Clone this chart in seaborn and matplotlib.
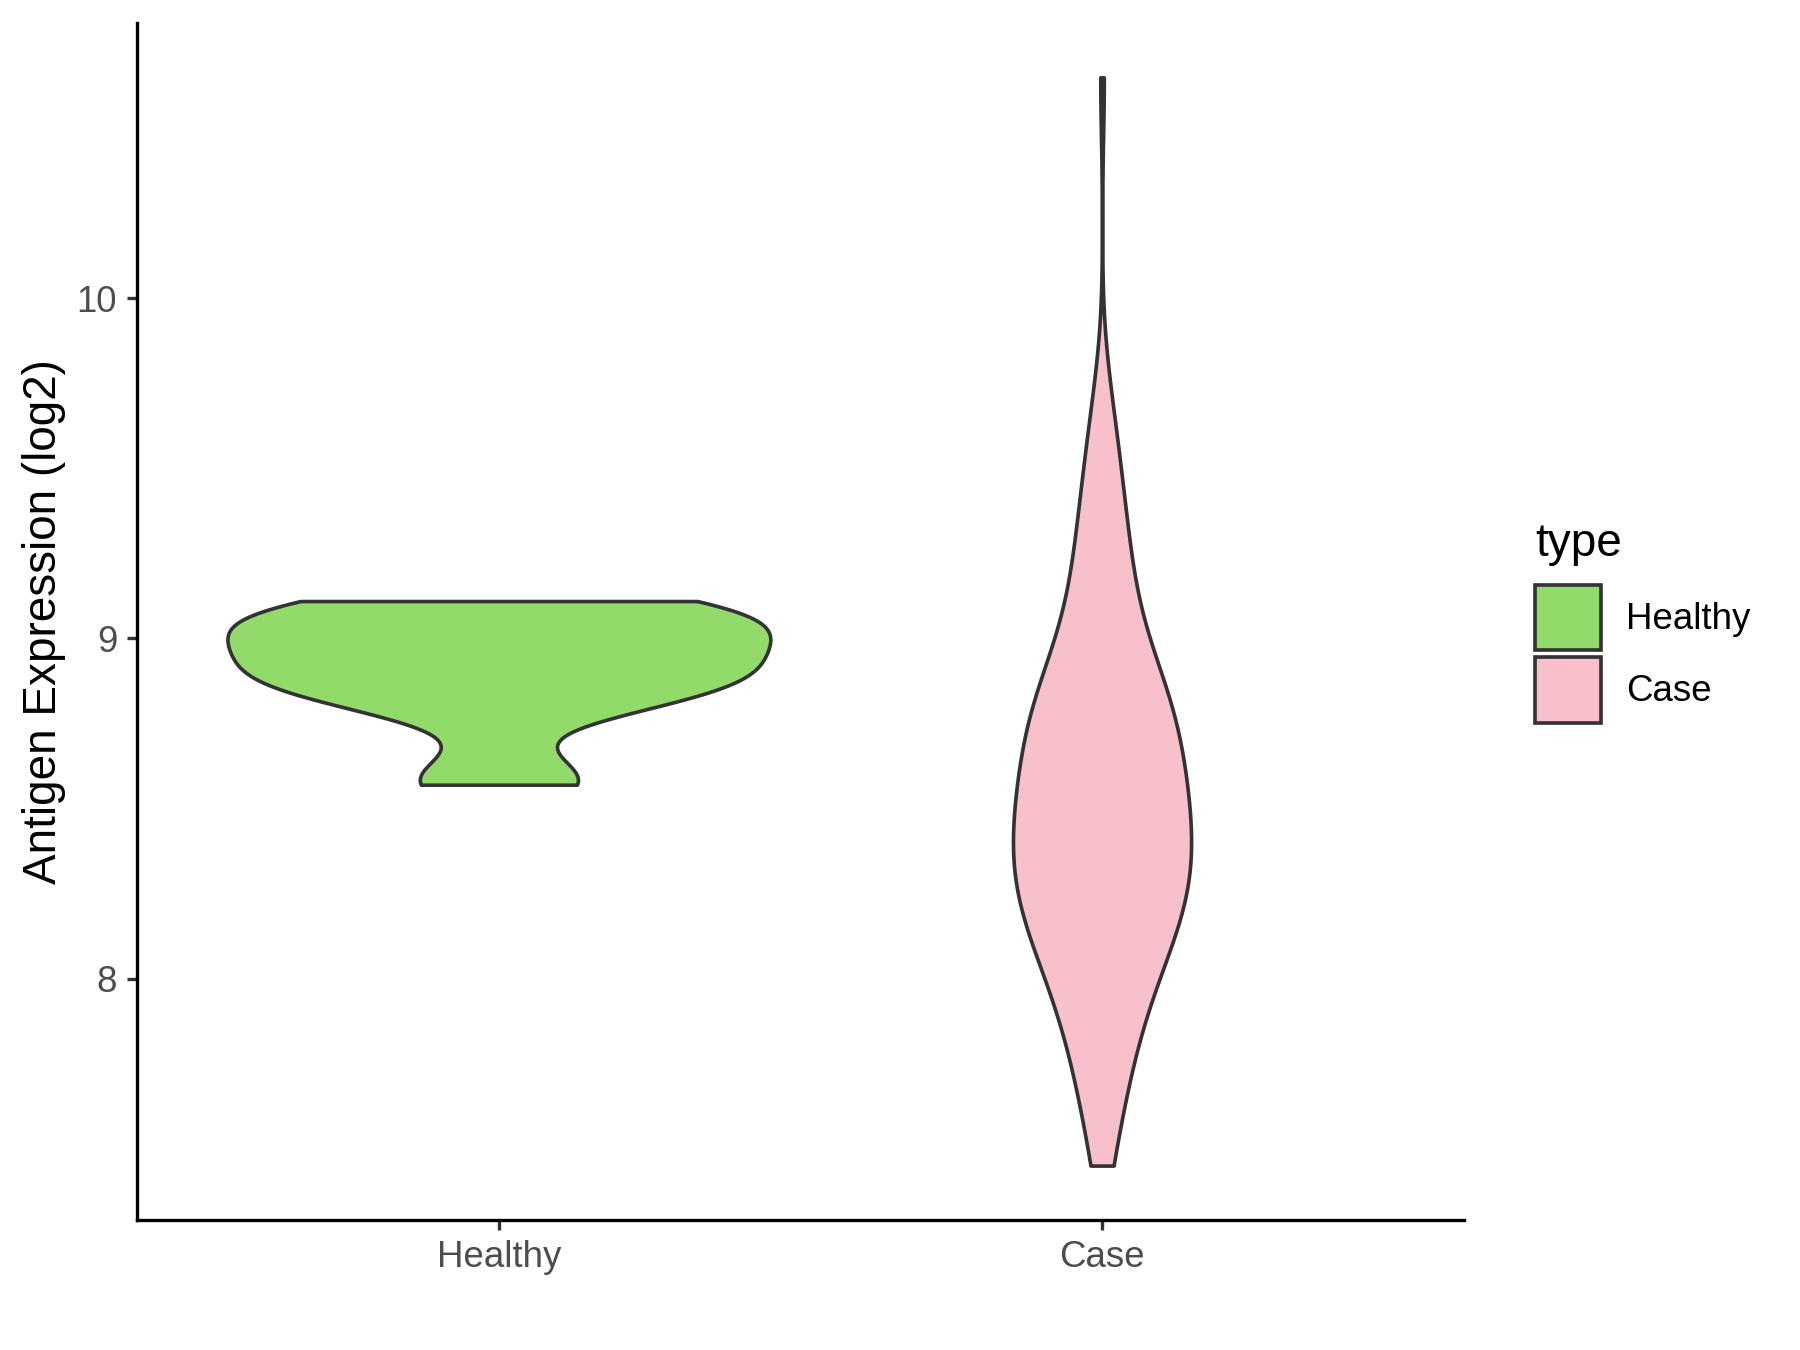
import matplotlib
matplotlib.use("Agg")
import matplotlib.pyplot as plt
import numpy as np
import pandas as pd
import seaborn as sns
from matplotlib.legend_handler import HandlerPatch
from matplotlib.patches import Patch, Rectangle

# ── Data ─────────────────────────────────────────────────────────────────────
GROUPS = ["Healthy", "Case"]
COLORS = ["#92DB6A", "#F7C0CA"]

healthy_expr = [8.57, 8.59, 8.80, 8.83, 8.86, 8.88, 8.91, 8.94, 8.97,
                9.00, 9.03, 9.06, 9.08, 9.10, 9.11]

# Case samples as expression level + number of samples at that level
case_levels = [7.45, 7.55, 7.65, 7.75, 7.85, 7.95, 8.05, 8.15, 8.25, 8.35,
               8.45, 8.55, 8.65, 8.75, 8.85, 8.95, 9.05, 9.15, 9.25, 9.35,
               9.45, 9.55, 9.65, 9.75, 10.65]
case_counts = [2, 2, 3, 4, 5, 6, 8, 11, 12, 13,
               12, 11, 11, 10, 11, 5, 5, 4, 4, 3,
               3, 2, 2, 1, 1]

Y_TICKS = [8, 9, 10]
Y_LABEL = "Antigen Expression (log2)"
LEGEND_TITLE = "type"
LINE = "#333333"


def nrd0(kde):
    """R's bw.nrd0, as a factor of the sample sd (what gaussian_kde expects)."""
    x = np.asarray(kde.dataset).ravel()
    sd = x.std(ddof=1)
    q25, q75 = np.percentile(x, [25, 75])
    lo = min(sd, (q75 - q25) / 1.34)
    if lo <= 0:
        lo = sd
    return 0.9 * lo * len(x) ** -0.2 / sd


def square_key(legend, orig_handle, xdescent, ydescent, width, height, fontsize):
    # ggplot-style key: a square centred on the label text
    size = 1.78 * fontsize
    mid = 0.30 * fontsize
    return Rectangle((-xdescent, mid - size / 2), size, size)


df = pd.concat([
    pd.DataFrame({"type": "Healthy", "value": healthy_expr}),
    pd.DataFrame({"type": "Case", "value": np.repeat(case_levels, case_counts)}),
], ignore_index=True)

# ── Plot ─────────────────────────────────────────────────────────────────────
sns.set_style("white")
plt.rcParams["font.family"] = ["Liberation Sans", "DejaVu Sans"]
plt.rcParams["text.color"] = "black"

fig = plt.figure(figsize=(12, 9), dpi=150)
ax = fig.add_axes([0.0761, 0.0963, 0.7372, 0.8867])

sns.violinplot(
    data=df, x="type", y="value", hue="type", order=GROUPS, hue_order=GROUPS,
    palette=COLORS, saturation=1, inner=None, cut=0, gridsize=512,
    bw_method=nrd0, density_norm="area", common_norm=True, width=0.9,
    linewidth=1.75, linecolor=LINE, legend=False, ax=ax,
)

vals = df["value"]
pad = 0.05 * (vals.max() - vals.min())
ax.set_ylim(vals.min() - pad, vals.max() + pad)
ax.set_xlim(-0.6, len(GROUPS) - 0.4)
ax.set_yticks(Y_TICKS)
ax.set_yticklabels([str(t) for t in Y_TICKS])

for side in ["top", "right"]:
    ax.spines[side].set_visible(False)
for side in ["left", "bottom"]:
    ax.spines[side].set_color("black")
    ax.spines[side].set_linewidth(1.6)

ax.tick_params(axis="both", length=5, width=1.6, color=LINE,
               labelcolor="#4D4D4D", labelsize=17.6, pad=4.5)
ax.tick_params(axis="x", bottom=True)
ax.tick_params(axis="y", left=True)
ax.set_xlabel("")
ax.set_ylabel(Y_LABEL, fontsize=22, color="black")
ax.yaxis.set_label_coords(-0.0535, 0.5)

handles = [Patch(facecolor=c, edgecolor=LINE, linewidth=1.75) for c in COLORS]
leg = fig.legend(
    handles, GROUPS, title=LEGEND_TITLE, loc="upper left",
    bbox_to_anchor=(0.853, 0.613), frameon=False, fontsize=17.6,
    title_fontsize=22, handlelength=1.78, handleheight=1.47,
    labelspacing=0.77, handletextpad=0.7, borderpad=0, borderaxespad=0,
    alignment="left", labelcolor="black",
    handler_map={Patch: HandlerPatch(patch_func=square_key)},
)
leg.get_title().set_color("black")

fig.savefig("out.png", dpi=150)
